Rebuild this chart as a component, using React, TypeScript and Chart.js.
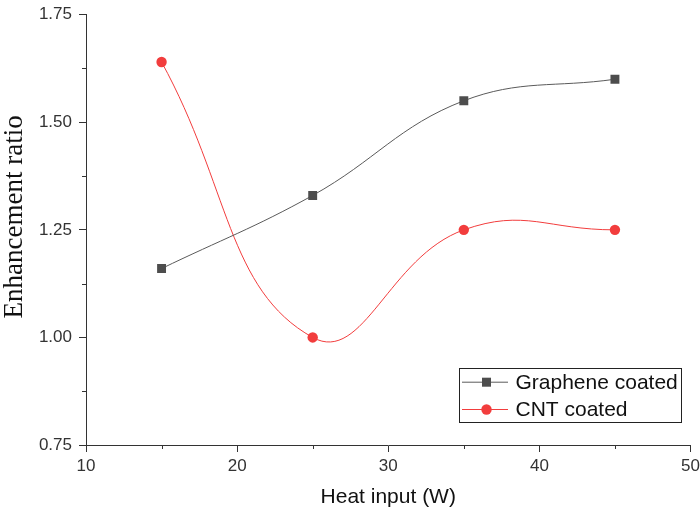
import React, { useEffect, useRef } from 'react';
import { Chart, registerables } from 'chart.js';

Chart.register(...registerables);

const heatInput = [15, 25, 35, 45];
const grapheneCoated = [1.16, 1.33, 1.55, 1.6];
const cntCoated = [1.64, 1.0, 1.25, 1.25];
const seriesNames = ['Graphene coated', 'CNT coated'];
const seriesColors = ['#4d4d4d', '#f23d3d'];
const lineColors = ['#5a5a5a', '#f23d3d'];
const xRange = [10, 50];
const yRange = [0.75, 1.75];
const xStep = 10;
const yStep = 0.25;
const yTitle = 'Enhancement ratio';

const minorTicks = {
  id: 'minorTicks',
  afterDraw(chart: any) {
    const { ctx } = chart;
    const xs = chart.scales.x;
    const ys = chart.scales.y;
    ctx.save();
    ctx.strokeStyle = '#333';
    ctx.lineWidth = 1;
    const xt = xs.ticks.map((t: any) => t.value);
    for (let i = 0; i < xt.length - 1; i++) {
      const px = Math.round(xs.getPixelForValue((xt[i] + xt[i + 1]) / 2)) + 0.5;
      ctx.beginPath();
      ctx.moveTo(px, xs.top);
      ctx.lineTo(px, xs.top + 4);
      ctx.stroke();
    }
    const yt = ys.ticks.map((t: any) => t.value);
    for (let i = 0; i < yt.length - 1; i++) {
      const py = Math.round(ys.getPixelForValue((yt[i] + yt[i + 1]) / 2)) + 0.5;
      ctx.beginPath();
      ctx.moveTo(ys.right, py);
      ctx.lineTo(ys.right - 4, py);
      ctx.stroke();
    }
    // y axis title
    ctx.save();
    ctx.translate(14.5, (chart.chartArea.top + chart.chartArea.bottom) / 2 - 13);
    ctx.rotate(-Math.PI / 2);
    ctx.fillStyle = '#111';
    ctx.font = '27px "Liberation Serif", "Times New Roman", serif';
    ctx.textAlign = 'center';
    ctx.textBaseline = 'middle';
    ctx.fillText(yTitle, 0, 0);
    ctx.restore();
    ctx.restore();
  },
};

const boxLegend = {
  id: 'boxLegend',
  afterDraw(chart: any) {
    const { ctx, chartArea } = chart;
    const w = 222;
    const h = 54;
    const right = chartArea.right - 10;
    const bottom = chartArea.bottom - 23;
    const left = Math.round(right - w) + 0.5;
    const top = Math.round(bottom - h) + 0.5;
    ctx.save();
    ctx.fillStyle = '#ffffff';
    ctx.fillRect(left, top, w, h);
    ctx.strokeStyle = '#222';
    ctx.lineWidth = 1;
    ctx.strokeRect(left, top, w, h);
    chart.data.datasets.forEach((ds: any, i: number) => {
      const cy = top + 13.7 + i * 27.3;
      ctx.strokeStyle = ds.borderColor;
      ctx.lineWidth = 1;
      ctx.beginPath();
      ctx.moveTo(left + 2.5, cy);
      ctx.lineTo(left + 48.5, cy);
      ctx.stroke();
      ctx.fillStyle = ds.pointBackgroundColor;
      const mx = left + 27;
      if (ds.pointStyle === 'rect') {
        ctx.fillRect(mx - 4.5, cy - 4.5, 9, 9);
      } else {
        ctx.beginPath();
        ctx.arc(mx, cy, 5.2, 0, Math.PI * 2);
        ctx.fill();
      }
      ctx.fillStyle = '#111';
      ctx.font = '21px "Liberation Sans", Arial, sans-serif';
      ctx.textBaseline = 'middle';
      ctx.textAlign = 'left';
      ctx.fillText(ds.label, left + 56, cy + 1);
    });
    ctx.restore();
  },
};

export default function App() {
  const ref = useRef<HTMLCanvasElement | null>(null);

  useEffect(() => {
    if (!ref.current) return;
    const chart = new Chart(ref.current, {
      type: 'line',
      data: {
        datasets: [
          {
            label: seriesNames[0],
            data: heatInput.map((x, i) => ({ x, y: grapheneCoated[i] })),
            borderColor: lineColors[0],
            borderWidth: 1,
            pointStyle: 'rect',
            pointRadius: 6.3,
            pointBackgroundColor: seriesColors[0],
            pointBorderWidth: 0,
            tension: 0.4,
          },
          {
            label: seriesNames[1],
            data: heatInput.map((x, i) => ({ x, y: cntCoated[i] })),
            borderColor: lineColors[1],
            borderWidth: 1,
            pointStyle: 'circle',
            pointRadius: 5.2,
            pointBackgroundColor: seriesColors[1],
            pointBorderWidth: 0,
            tension: 0.45,
          },
        ],
      },
      options: {
        animation: false,
        responsive: false,
        events: [],
        layout: { padding: { top: 14.7, right: 9.5, left: 0, bottom: 0 } },
        plugins: { legend: { display: false }, tooltip: { enabled: false } },
        scales: {
          x: {
            type: 'linear',
            min: xRange[0],
            max: xRange[1],
            afterFit: (s: any) => {
              s.height = 63;
              s.paddingLeft = 0;
              s.paddingRight = 0;
            },
            ticks: {
              stepSize: xStep,
              padding: 4,
              color: '#333',
              font: { family: '"Liberation Sans", Arial, sans-serif', size: 17 },
            },
            grid: { drawOnChartArea: false, tickLength: 7, color: '#333', tickColor: '#333' },
            border: { display: true, color: '#333', width: 1 },
            title: {
              display: true,
              text: 'Heat input (W)',
              color: '#111',
              padding: { top: 0, bottom: 0 },
              font: { family: '"Liberation Sans", Arial, sans-serif', size: 21, lineHeight: 1 },
            },
          },
          y: {
            type: 'linear',
            min: yRange[0],
            max: yRange[1],
            afterFit: (s: any) => {
              s.width = 86;
              s.paddingTop = 0;
              s.paddingBottom = 0;
            },
            ticks: {
              stepSize: yStep,
              padding: 7,
              color: '#333',
              callback: (v: any) => Number(v).toFixed(2),
              font: { family: '"Liberation Sans", Arial, sans-serif', size: 17 },
            },
            grid: { drawOnChartArea: false, tickLength: 7, color: '#333', tickColor: '#333' },
            border: { display: true, color: '#333', width: 1 },
          },
        },
      },
      plugins: [minorTicks, boxLegend],
    });
    return () => chart.destroy();
  }, []);

  return (
    <div style={{ position: 'absolute', left: 0, top: 0, width: 700, height: 508, background: '#fff' }}>
      <canvas ref={ref} width={700} height={508} style={{ display: 'block' }} />
    </div>
  );
}
